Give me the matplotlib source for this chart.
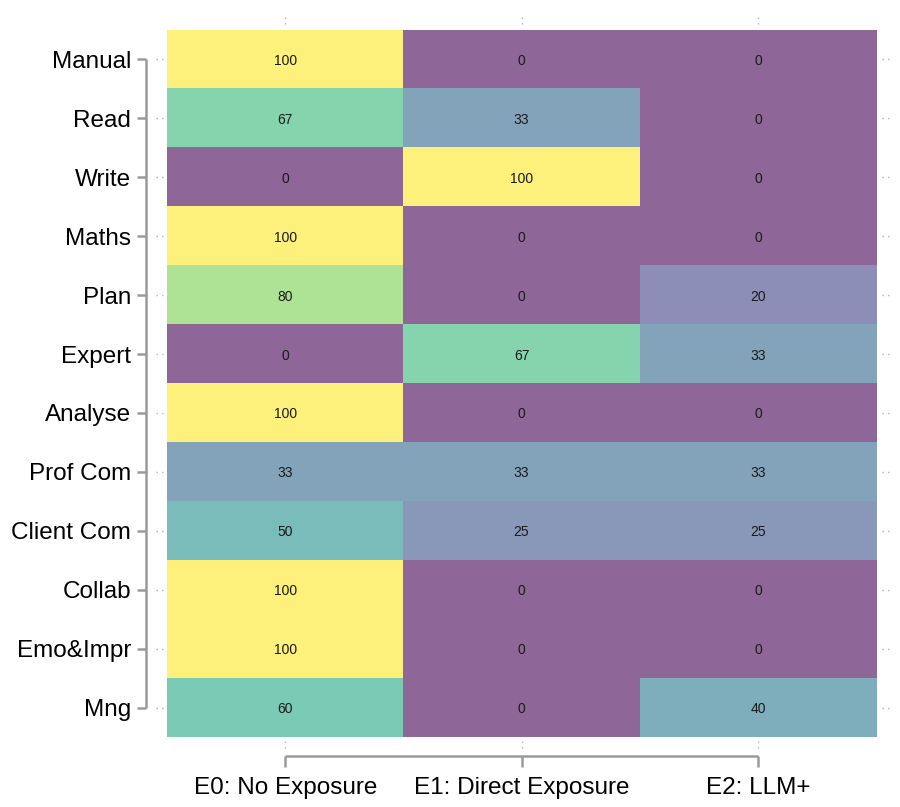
import matplotlib
matplotlib.use("Agg")
import matplotlib.pyplot as plt
from matplotlib import font_manager
import numpy as np

# data
tasks = ['Manual', 'Read', 'Write', 'Maths', 'Plan', 'Expert', 'Analyse',
         'Prof Com', 'Client Com', 'Collab', 'Emo&Impr', 'Mng']
exposure = ['E0: No Exposure', 'E1: Direct Exposure', 'E2: LLM+']
e0 = [100, 67, 0, 100, 80, 0, 100, 33, 50, 100, 100, 60]
e1 = [0, 33, 100, 0, 0, 67, 0, 33, 25, 0, 0, 0]
e2 = [0, 0, 0, 0, 20, 33, 0, 33, 25, 0, 0, 40]

values = np.array([e0, e1, e2]).T

# a narrow face if there is one, otherwise Liberation Sans a bit smaller
installed = {f.name for f in font_manager.fontManager.ttflist}
if 'Liberation Sans Narrow' in installed:
    FONT = ['Liberation Sans Narrow', 'DejaVu Sans']
    label_size, cell_size = 21, 12
else:
    FONT = ['Liberation Sans', 'DejaVu Sans']
    label_size, cell_size = 17.5, 10
plt.rcParams['font.family'] = FONT

GRAY = '#9a9a9a'
DOT = '#b5b5b5'

fig = plt.figure(figsize=(9, 8.07), dpi=100)
ax = fig.add_axes([0.1856, 0.0867, 0.7878, 0.8761])

ax.imshow(values, cmap='viridis', vmin=0, vmax=100, alpha=0.6,
          aspect='auto', interpolation='nearest')

for i in range(values.shape[0]):
    for j in range(values.shape[1]):
        ax.text(j, i, f'{values[i, j]:.0f}', ha='center', va='center_baseline',
                fontsize=cell_size, color='#1a1a1a')

for s in ax.spines.values():
    s.set_visible(False)

ax.set_xticks(range(len(exposure)))
ax.set_xticklabels(exposure, fontsize=label_size)
ax.set_yticks(range(len(tasks)))
ax.set_yticklabels(tasks, fontsize=label_size)
ax.tick_params(axis='x', length=0, pad=29)
ax.tick_params(axis='y', length=0, pad=26)

# range-frame brackets
ytr = ax.get_yaxis_transform()
xtr = ax.get_xaxis_transform()
lx = -0.0296
tick_w = 0.0127
ax.plot([lx, lx], [0, len(tasks) - 1], color=GRAY, lw=1.8,
        transform=ytr, clip_on=False, solid_capstyle='butt')
for i in range(len(tasks)):
    ax.plot([lx - tick_w, lx], [i, i], color=GRAY, lw=1.8,
            transform=ytr, clip_on=False, solid_capstyle='butt')
    # faint dotted ticks left and right
    ax.plot([-0.016, -0.005], [i, i], color=DOT, lw=1, ls=(0, (1, 3)),
            transform=ytr, clip_on=False)
    ax.plot([1.008, 1.019], [i, i], color=DOT, lw=1, ls=(0, (1, 3)),
            transform=ytr, clip_on=False)

by = -0.0269
tick_h = 0.016
ax.plot([0, len(exposure) - 1], [by, by], color=GRAY, lw=1.8,
        transform=xtr, clip_on=False, solid_capstyle='butt')
for j in range(len(exposure)):
    ax.plot([j, j], [by, by - tick_h], color=GRAY, lw=1.8,
            transform=xtr, clip_on=False, solid_capstyle='butt')
    ax.plot([j, j], [-0.006, -0.019], color=DOT, lw=1, ls=(0, (1, 3)),
            transform=xtr, clip_on=False)
    ax.plot([j, j], [1.008, 1.022], color=DOT, lw=1, ls=(0, (1, 3)),
            transform=xtr, clip_on=False)

fig.savefig('out.png', dpi=100)
